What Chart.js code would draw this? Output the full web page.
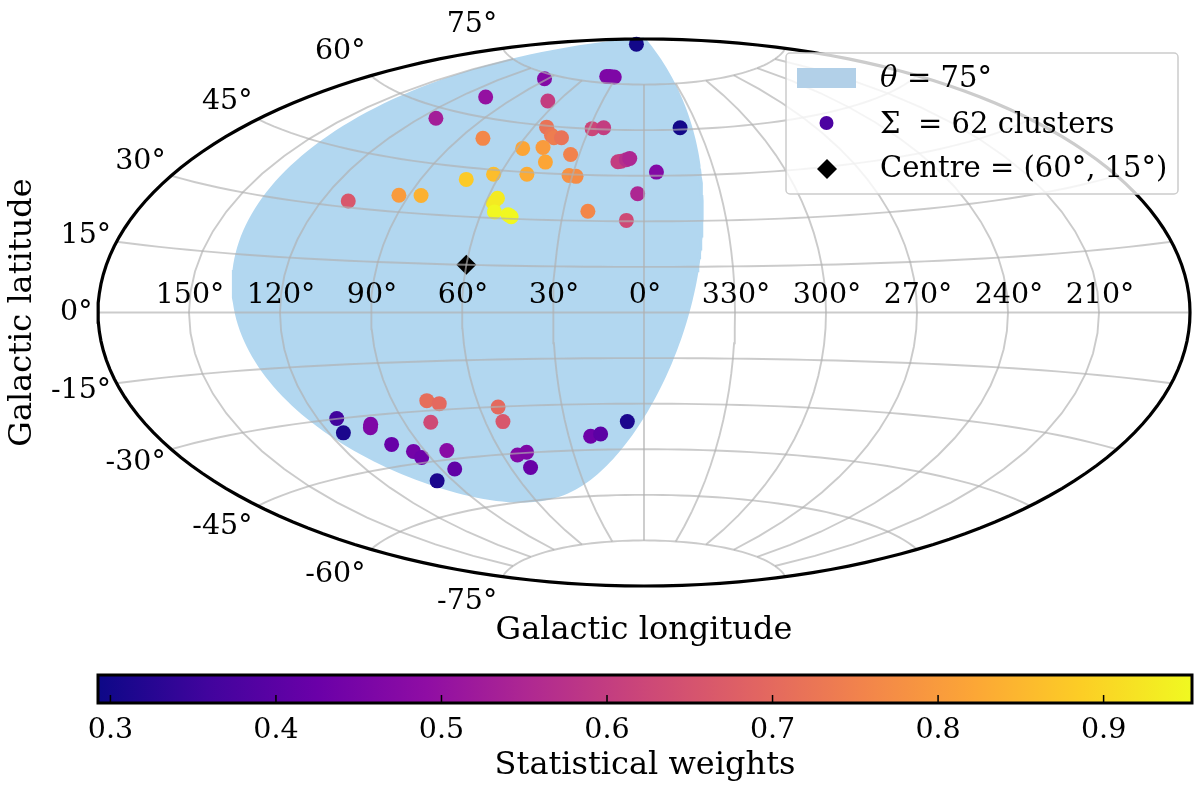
<!DOCTYPE html>
<html>
<head>
<meta charset="utf-8">
<style>
html,body{margin:0;padding:0;background:#fff;width:1200px;height:790px;overflow:hidden}
canvas{position:absolute;left:0;display:block}
#sky{top:0}
#bar{top:650px}
</style>
<script src="https://cdn.jsdelivr.net/npm/chart.js@4/dist/chart.umd.js"></script>
</head>
<body>
<canvas id="sky" width="1200" height="650"></canvas>
<canvas id="bar" width="1200" height="140"></canvas>
<script>
// Cluster positions, in Aitoff-plane degrees (x -180..180, y -90..90)
const clusterX = [-2.5,-12.3,-11.2,-9.8,-32.8,-52.2,-31.7,-68.6,-17.1,-13.3,11.9,-32.1,-30.5,-29.7,-27.2,-53.1,-40.0,-33.3,-24.2,-32.5,-8.6,-7.5,-5.8,-4.7,4.1,-58.6,-49.6,-38.6,-24.7,-22.4,-80.8,-73.5,-97.5,-48.3,-49.7,-49.3,-44.8,-43.8,-18.5,-2.1,-5.8,-101.3,-99.1,-90.1,-90.2,-83.2,-76.0,-73.3,-65.0,-62.4,-68.2,-71.6,-67.5,-70.3,-48.1,-46.5,-41.7,-38.7,-37.4,-17.6,-14.3,-5.5];
const clusterY = [88.3,77.7,77.7,77.5,76.9,70.9,69.6,63.9,60.5,60.8,60.8,61.0,58.3,57.5,57.5,57.3,54.0,54.3,52.0,49.5,49.6,49.8,50.3,50.7,46.2,43.8,45.5,45.5,45.1,44.8,38.6,38.5,36.7,37.6,36.1,33.1,32.2,31.5,33.3,39.1,30.3,-34.9,-39.6,-36.8,-37.9,-43.4,-45.7,-47.7,-45.4,-51.5,-55.4,-29.0,-30.0,-36.1,-31.1,-35.9,-46.9,-46.0,-51.0,-40.7,-40.0,-35.9];
const clusterWeights = [0.30,0.46,0.46,0.46,0.47,0.50,0.60,0.53,0.62,0.60,0.30,0.72,0.73,0.74,0.72,0.76,0.82,0.80,0.75,0.82,0.60,0.60,0.57,0.55,0.47,0.88,0.86,0.83,0.78,0.77,0.80,0.84,0.66,0.93,0.93,0.95,0.95,0.95,0.76,0.55,0.63,0.36,0.31,0.46,0.46,0.42,0.44,0.43,0.48,0.41,0.31,0.71,0.70,0.63,0.70,0.66,0.47,0.46,0.42,0.43,0.40,0.31];

const centreLon = 60, centreLat = 15, capTheta = 75;
const latTicks = [75,60,45,30,15,0,-15,-30,-45,-60,-75];
const lonTicks = [150,120,90,60,30,0,-30,-60,-90,-120,-150];
const lonTickLabels = ['150°','120°','90°','60°','30°','0°','330°','300°','270°','240°','210°'];
const latLabelShift = [-24,-24,-18,-14,-6,0,7,13,21,25,25];
const colorbarRange = [0.2925,0.9534];
const colorbarTicks = [0.3,0.4,0.5,0.6,0.7,0.8,0.9];
const plasma = ['#0d0887','#41049d','#6a00a8','#8f0da4','#b12a90','#cc4778','#e16462','#f2844b','#fca636','#fcce25','#f0f921'];

const FONT = '"DejaVu Serif"';
const FS_TICK = 28.5, FS_LEGEND = 29, FS_TITLE = 32;
const GRID = 'rgba(176,176,176,0.66)';

function hexRgb(h){return [1,3,5].map(i=>parseInt(h.substr(i,2),16));}
function plasmaAt(t){
  t=Math.max(0,Math.min(1,t));
  const p=t*(plasma.length-1), i=Math.min(plasma.length-2,Math.floor(p)), f=p-i;
  const a=hexRgb(plasma[i]), b=hexRgb(plasma[i+1]);
  return 'rgb('+a.map((v,k)=>Math.round(v+(b[k]-v)*f)).join(',')+')';
}
function weightColor(w){return plasmaAt((w-colorbarRange[0])/(colorbarRange[1]-colorbarRange[0]));}

// Aitoff projection; galactic longitude increases to the left
function aitoff(lon,lat){
  const l=-lon*Math.PI/360, p=lat*Math.PI/180;
  const a=Math.acos(Math.cos(p)*Math.cos(l));
  const s=a<1e-9?1:a/Math.sin(a);
  return {x:2*Math.cos(p)*Math.sin(l)*s*180/Math.PI, y:Math.sin(p)*s*180/Math.PI};
}
function parallel(lat){const o=[];for(let l=-180;l<=180;l+=5)o.push(aitoff(l,lat));return o;}
function meridian(lon){const o=[];for(let b=-75;b<=75;b+=5)o.push(aitoff(lon,b));return o;}
function capOutline(){
  const o=[],th=capTheta*Math.PI/180,p0=centreLat*Math.PI/180;
  for(let t=0;t<=360;t+=1.5){
    const r=t*Math.PI/180;
    const sl=Math.sin(p0)*Math.cos(th)+Math.cos(p0)*Math.sin(th)*Math.cos(r);
    const lat=Math.asin(Math.max(-1,Math.min(1,sl)));
    const lon=centreLon*Math.PI/180+Math.atan2(Math.sin(r)*Math.sin(th)*Math.cos(p0),Math.cos(th)-Math.sin(p0)*sl);
    o.push(aitoff(lon*180/Math.PI,lat*180/Math.PI));
  }
  return o;
}
function outline(){
  const o=[];
  for(let b=-90;b<=90;b+=2)o.push(aitoff(180,b));
  for(let b=90;b>=-90;b-=2)o.push(aitoff(-180,b));
  return o;
}
const lineBase={type:'line',parsing:false,pointRadius:0,pointHitRadius:0,tension:0,fill:false,clip:false};
const datasets=[
  Object.assign({},lineBase,{label:'θ = 75°',data:capOutline(),fill:'shape',backgroundColor:'rgb(178,215,240)',borderColor:'rgb(178,215,240)',borderWidth:3,order:9}),
  {type:'scatter',label:'Σ = 62 clusters',data:clusterX.map((x,i)=>({x,y:clusterY[i]})),pointRadius:7.5,pointHoverRadius:7.5,pointBorderWidth:0,pointBackgroundColor:clusterWeights.map(weightColor),backgroundColor:'#4c02a1',order:6,clip:false},
  {type:'scatter',label:'Centre = (60°, 15°)',data:[aitoff(centreLon,centreLat)],pointStyle:'rectRot',pointRadius:10,pointBorderWidth:0,pointBackgroundColor:'#000',order:5,clip:false}
];
latTicks.forEach(b=>datasets.push(Object.assign({},lineBase,{label:'lat'+b,data:parallel(b),borderColor:GRID,borderWidth:1.9,order:3})));
lonTicks.forEach(l=>datasets.push(Object.assign({},lineBase,{label:'lon'+l,data:meridian(l),borderColor:GRID,borderWidth:1.9,order:3})));
datasets.push(Object.assign({},lineBase,{label:'frame',data:outline(),borderColor:'#000',borderWidth:3.2,order:1}));

const skyLabels={id:'skyLabels',afterDatasetsDraw(c){
  const g=c.ctx,X=c.scales.x,Y=c.scales.y;
  g.save();g.fillStyle='#000';g.font=FS_TICK+'px '+FONT;
  g.textAlign='center';g.textBaseline='middle';
  lonTicks.forEach((l,i)=>{const p=aitoff(l,0);g.fillText(lonTickLabels[i],X.getPixelForValue(p.x)+1,Y.getPixelForValue(p.y)-17);});
  g.textAlign='right';
  latTicks.forEach((b,i)=>{const p=aitoff(180,b);g.fillText(b+'°',X.getPixelForValue(p.x)-5.5,Y.getPixelForValue(p.y)+latLabelShift[i]);});
  g.restore();
}};
const skyLegend={id:'skyLegend',afterDraw(c){
  const g=c.ctx;
  g.save();
  g.beginPath();g.roundRect(786,53,392,141,4);
  g.fillStyle='rgba(255,255,255,0.8)';g.fill();
  g.strokeStyle='#cccccc';g.lineWidth=1.5;g.stroke();
  g.fillStyle='rgb(178,208,232)';g.fillRect(797,68,59,20);
  g.fillStyle='#4c02a1';g.beginPath();g.arc(826.5,123,7,0,Math.PI*2);g.fill();
  g.fillStyle='#000';g.beginPath();g.moveTo(827,159);g.lineTo(837,169);g.lineTo(827,179);g.lineTo(817,169);g.closePath();g.fill();
  g.textBaseline='middle';g.textAlign='left';
  g.font='italic '+FS_LEGEND+'px '+FONT;g.fillText('θ',880,79);
  g.font=FS_LEGEND+'px '+FONT;g.fillText('= 75°',907,79);
  g.fillText('Σ',880,125);g.fillText('= 62 clusters',918,125);
  g.fillText('Centre = (60°, 15°)',880,169);
  g.restore();
}};
new Chart(document.getElementById('sky'),{
  data:{datasets},
  plugins:[skyLabels,skyLegend],
  options:{
    responsive:false,animation:false,events:[],
    layout:{padding:{left:0,right:8,top:39,bottom:0}},
    plugins:{legend:{display:false},tooltip:{enabled:false},title:{display:false}},
    scales:{
      x:{type:'linear',min:-180,max:180,grid:{display:false},border:{display:false},ticks:{display:false},
         afterFit(s){s.height=64;},
         title:{display:true,text:'Galactic longitude',color:'#000',font:{family:FONT,size:FS_TITLE},padding:{top:0,bottom:0}}},
      y:{type:'linear',min:-90,max:90,grid:{display:false},border:{display:false},ticks:{display:false},
         afterFit(s){s.width=98;},
         title:{display:true,text:'Galactic latitude',color:'#000',font:{family:FONT,size:FS_TITLE},padding:{top:3,bottom:3}}}
    }
  }
});

function barGradient(ctx){
  const a=ctx.chart.chartArea;
  if(!a)return '#000';
  const gr=ctx.chart.ctx.createLinearGradient(a.left,0,a.right,0);
  plasma.forEach((h,i)=>gr.addColorStop(i/(plasma.length-1),h));
  return gr;
}
const barFrame={id:'barFrame',afterDatasetsDraw(c){
  const g=c.ctx,a=c.chartArea,X=c.scales.x;
  g.save();g.strokeStyle='#000';
  g.lineWidth=1.5;
  colorbarTicks.forEach(v=>{const x=X.getPixelForValue(v);g.beginPath();g.moveTo(x,a.bottom);g.lineTo(x,a.bottom-8);g.stroke();});
  g.lineWidth=3;g.strokeRect(a.left,a.top,a.right-a.left,a.bottom-a.top);
  g.restore();
}};
new Chart(document.getElementById('bar'),{
  type:'bar',
  data:{labels:['Statistical weights'],datasets:[{data:[colorbarRange],backgroundColor:barGradient,barPercentage:1,categoryPercentage:1,borderWidth:0,borderSkipped:false}]},
  plugins:[barFrame],
  options:{
    indexAxis:'y',responsive:false,animation:false,events:[],
    layout:{padding:{left:98,right:8,top:25,bottom:0}},
    plugins:{legend:{display:false},tooltip:{enabled:false}},
    scales:{
      y:{display:false},
      x:{type:'linear',min:colorbarRange[0],max:colorbarRange[1],grid:{display:false},border:{display:false},
         afterFit(s){s.height=87;},
         afterBuildTicks(s){s.ticks=colorbarTicks.map(value=>({value}));},
         ticks:{autoSkip:false,maxRotation:0,color:'#000',padding:2,font:{family:FONT,size:FS_TICK},callback:v=>Number(v).toFixed(1)},
         title:{display:true,text:'Statistical weights',color:'#000',font:{family:FONT,size:FS_TITLE},padding:{top:4,bottom:5}}}
    }
  }
});
</script>
</body>
</html>
